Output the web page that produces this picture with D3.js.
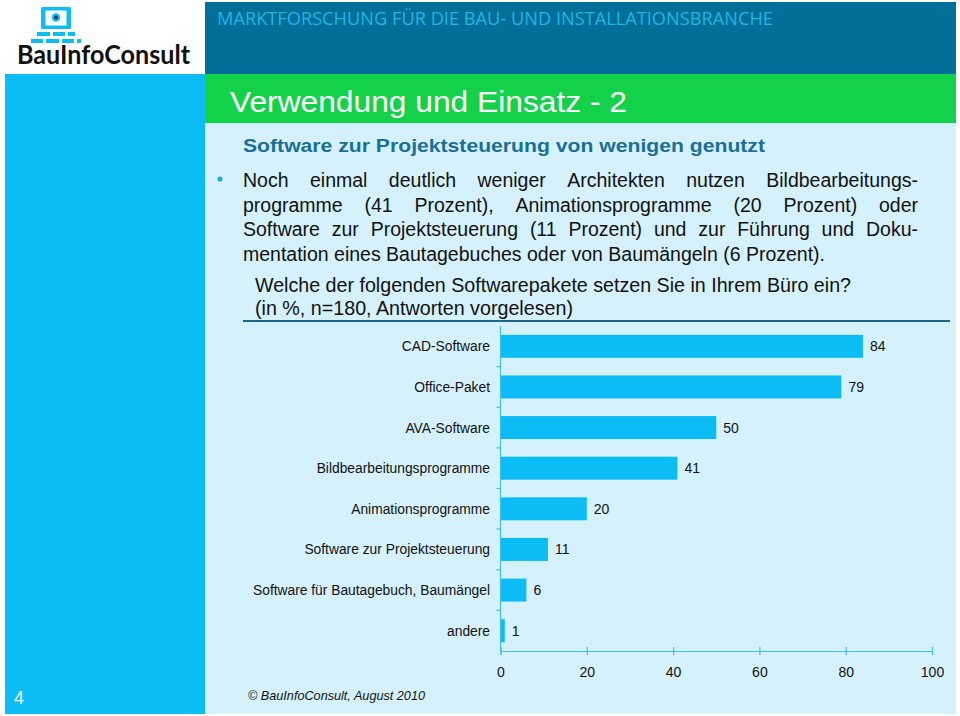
<!DOCTYPE html>
<html><head><meta charset="utf-8">
<script src="https://cdn.jsdelivr.net/npm/d3@7"></script>
<style>html,body{margin:0;padding:0;background:#fff}svg{display:block}</style>
</head><body>
<svg id="c" width="960" height="716"></svg>
<script>
const categories = ["CAD-Software","Office-Paket","AVA-Software","Bildbearbeitungsprogramme","Animationsprogramme","Software zur Projektsteuerung","Software für Bautagebuch, Baumängel","andere"];
const values = [84,79,50,41,20,11,6,1];
const xTicks = [0,20,40,60,80,100];
const headerText = "MARKTFORSCHUNG FÜR DIE BAU- UND INSTALLATIONSBRANCHE";
const titleText = "Verwendung und Einsatz - 2";
const subtitleText = "Software zur Projektsteuerung von wenigen genutzt";
const bodyLines = [
  "Noch einmal deutlich weniger Architekten nutzen Bildbearbeitungs-",
  "programme (41 Prozent), Animationsprogramme (20 Prozent) oder",
  "Software zur Projektsteuerung (11 Prozent) und zur Führung und Doku-",
  "mentation eines Bautagebuches oder von Baumängeln (6 Prozent)."
];
const questionLines = ["Welche der folgenden Softwarepakete setzen Sie in Ihrem Büro ein?","(in %, n=180, Antworten vorgelesen)"];
const footerText = "© BauInfoConsult,  August 2010";
const pageNo = "4";

const svg = d3.select("#c");
const CYAN = "#0bbdf4", DARK = "#016f97", GREEN = "#13d24a", PANEL = "#d5f2fc";
const F = "Liberation Sans, Arial, sans-serif";

// backgrounds
svg.append("rect").attr("x",0).attr("y",0).attr("width",960).attr("height",716).attr("fill","#fff");
svg.append("rect").attr("x",5).attr("y",74).attr("width",200).attr("height",640).attr("fill",CYAN);
svg.append("rect").attr("x",205).attr("y",2).attr("width",751).attr("height",72).attr("fill",DARK);
svg.append("rect").attr("x",205).attr("y",74).attr("width",751).attr("height",49).attr("fill",GREEN);
svg.append("rect").attr("x",205).attr("y",123).attr("width",751).attr("height",591).attr("fill",PANEL);

// logo
const lg = svg.append("g");
lg.append("rect").attr("x",41).attr("y",7).attr("width",30).attr("height",22).attr("rx",1.5).attr("fill",CYAN);
lg.append("rect").attr("x",45.5).attr("y",10.5).attr("width",21).attr("height",15).attr("fill","#fff");
lg.append("circle").attr("cx",56).attr("cy",17.5).attr("r",4.2).attr("fill",CYAN);
lg.append("circle").attr("cx",56).attr("cy",17.5).attr("r",2).attr("fill","#0a3a55");
[[37,50],[53,65],[68,75]].forEach(b=>lg.append("rect").attr("x",b[0]).attr("y",32).attr("width",b[1]-b[0]).attr("height",4).attr("fill",CYAN));
[[31,43],[46,59],[62,74],[77,81]].forEach(b=>lg.append("rect").attr("x",b[0]).attr("y",39).attr("width",b[1]-b[0]).attr("height",4).attr("fill",CYAN));
lg.append("text").attr("x",17).attr("y",64).attr("font-family","Lato, 'Open Sans', sans-serif").attr("font-weight",700)
  .attr("font-size",27).attr("fill","#111").attr("textLength",173).attr("lengthAdjust","spacingAndGlyphs").text("BauInfoConsult");

// header
svg.append("text").attr("x",217).attr("y",25).attr("font-family","'Open Sans', sans-serif").attr("font-size",18)
  .attr("fill","#1fb6e6").attr("textLength",556).attr("lengthAdjust","spacingAndGlyphs").text(headerText);
svg.append("text").attr("x",230).attr("y",112).attr("font-family",F).attr("font-size",30)
  .attr("fill","#fff").attr("textLength",397).attr("lengthAdjust","spacingAndGlyphs").text(titleText);
svg.append("text").attr("x",243).attr("y",152).attr("font-family",F).attr("font-weight",700).attr("font-size",19)
  .attr("fill","#1a6f98").attr("textLength",522).attr("lengthAdjust","spacingAndGlyphs").text(subtitleText);

// bullet
svg.append("circle").attr("cx",220).attr("cy",179).attr("r",2.6).attr("fill","#1aa7d9");

// justified body
const bodyX0 = 243, bodyX1 = 918, bodyBase = [187,212,236,261];
bodyLines.forEach((line,i)=>{
  const words = line.split(" ");
  const g = svg.append("g");
  const ts = words.map(w=>g.append("text").attr("font-family",F).attr("font-size",19.5).attr("fill","#111").attr("y",bodyBase[i]).text(w));
  const widths = ts.map(t=>t.node().getComputedTextLength());
  const total = d3.sum(widths);
  const last = i===bodyLines.length-1;
  const gap = last ? 5.4 : (bodyX1-bodyX0-total)/(words.length-1);
  let x = bodyX0;
  ts.forEach((t,k)=>{ t.attr("x",x); x += widths[k]+gap; });
});

// question
const qw = [596,318];
questionLines.forEach((q,i)=>{
  svg.append("text").attr("x",255).attr("y",292+i*23).attr("font-family","'Liberation Sans Narrow', 'Arial Narrow', "+F)
    .attr("font-size",19.5).attr("fill","#111").attr("textLength",qw[i]).attr("lengthAdjust","spacingAndGlyphs").text(q);
});
svg.append("line").attr("x1",243).attr("x2",950).attr("y1",321).attr("y2",321).attr("stroke","#1b6a8a").attr("stroke-width",1.8);

// chart
const x = d3.scaleLinear().domain([0,100]).range([500.5,932]);
const y = d3.scaleBand().domain(categories).range([326,651]).paddingInner(0.434).paddingOuter(0.217);
const AX = "#3fc1e8";
const cg = svg.append("g");
cg.selectAll("rect.bar").data(categories).join("rect").attr("class","bar")
  .attr("x",x(0)).attr("y",d=>y(d)).attr("width",(d,i)=>x(values[i])-x(0)).attr("height",y.bandwidth()).attr("fill",CYAN);
cg.selectAll("text.val").data(categories).join("text").attr("class","val")
  .attr("x",(d,i)=>x(values[i])+7).attr("y",d=>y(d)+y.bandwidth()/2).attr("dy","0.36em")
  .attr("font-family",F).attr("font-size",14).attr("fill","#111").text((d,i)=>values[i]);
cg.selectAll("text.cat").data(categories).join("text").attr("class","cat")
  .attr("x",490).attr("y",d=>y(d)+y.bandwidth()/2).attr("dy","0.36em").attr("text-anchor","end")
  .attr("font-family",F).attr("font-size",13.8).attr("fill","#111").text(d=>d);
// y axis line & boundary ticks
const off = (y.step()-y.bandwidth())/2;
cg.append("line").attr("x1",x(0)).attr("x2",x(0)).attr("y1",326).attr("y2",651).attr("stroke",AX).attr("stroke-width",1.2);
cg.selectAll("line.yt").data(categories.slice(1)).join("line").attr("class","yt")
  .attr("x1",x(0)-4).attr("x2",x(0)).attr("y1",d=>y(d)-off).attr("y2",d=>y(d)-off).attr("stroke",AX).attr("stroke-width",1.2);
// x axis
const xa = cg.append("g").attr("transform","translate(0,651)")
  .call(d3.axisBottom(x).tickValues(xTicks).tickSize(4).tickPadding(12));
xa.select(".domain").attr("stroke",AX).attr("stroke-width",1.2);
xa.selectAll(".tick line").attr("stroke",AX).attr("stroke-width",1.2).attr("y1",-4).attr("y2",4);
xa.selectAll(".tick text").attr("font-family",F).attr("font-size",14).attr("fill","#111");

// footer
svg.append("text").attr("x",248).attr("y",700).attr("font-family",F).attr("font-style","italic").attr("font-size",13)
  .attr("fill","#111").attr("textLength",177).attr("lengthAdjust","spacingAndGlyphs").text(footerText);
svg.append("text").attr("x",14).attr("y",704).attr("font-family",F).attr("font-size",18).attr("fill","#fff").text(pageNo);
</script>
</body></html>
